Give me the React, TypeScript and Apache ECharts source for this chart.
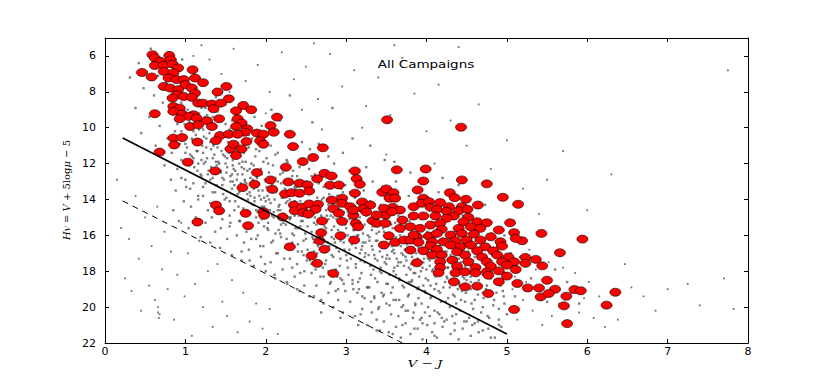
import React, { useEffect, useRef } from "react";
import * as echarts from "echarts";

const titleText = "All Campaigns";
const xTicks = [0, 1, 2, 3, 4, 5, 6, 7, 8];
const yTicks = [6, 8, 10, 12, 14, 16, 18, 20, 22];

const solidCut = [[0.22, 10.57], [5.0, 21.5]];
const dashedCut = [[0.22, 14.08], [3.7, 22]];

const fieldStarsBlue = [
  [0.31,7.2],[0.38,8.9],[0.42,6.4],[0.45,10.3],[0.48,7.8],[0.52,6.9],[0.55,9.4],[0.57,5.6],[0.61,8.2],[0.63,11.0],[0.66,7.1],[0.68,9.9],[0.7,6.3],[0.72,8.6],[0.74,12.1],[0.76,7.5],[0.78,10.6],[0.79,5.8],
  [0.81,9.1],[0.82,7.9],[0.83,11.4],[0.85,8.5],[0.86,6.7],[0.87,10.2],[0.88,9.6],[0.9,12.3],[0.91,7.4],[0.92,8.8],[0.93,10.9],[0.94,9.3],[0.95,11.8],[0.96,6.2],[0.97,8.1],[0.98,10.5],[0.99,9.8],[1.0,12.9],[1.01,7.7],[1.02,11.1],[1.03,9.0],[1.04,10.0],[1.05,8.4],[1.06,13.4],[1.07,9.5],[1.08,11.6],[1.09,10.7],[1.1,7.2],[1.11,12.2],[1.12,9.9],[1.13,10.4],[1.14,8.7],[1.15,11.3],[1.16,13.8],[1.17,9.2],[1.18,10.8],[1.19,12.6],[1.2,8.9],
  [1.21,11.0],[1.22,10.1],[1.23,12.0],[1.24,9.4],[1.25,13.1],[1.26,10.6],[1.27,11.7],[1.28,8.6],[1.29,12.4],[1.3,10.3],[1.31,14.2],[1.32,11.2],[1.33,9.7],[1.34,12.8],[1.35,10.9],[1.36,11.5],[1.37,13.6],[1.38,10.0],[1.39,12.1],[1.4,9.1],[1.41,11.9],[1.42,14.6],[1.43,10.7],[1.44,12.5],[1.45,11.3],[1.46,13.2],[1.47,10.4],[1.48,12.9],[1.49,11.6],[1.5,9.8],[1.51,13.9],[1.52,12.2],[1.53,10.8],[1.54,11.4],[1.55,14.9],[1.56,12.7],[1.57,10.2],[1.58,13.4],[1.59,11.8],[1.6,12.3],
  [1.22,13.3],[1.27,9.3],[1.33,15.0],[1.38,8.3],[1.44,15.6],[1.5,8.7],[1.56,15.3],[1.58,9.6]
];

const fieldStarsMid = [
  [1.61,10.9],[1.62,14.1],[1.63,11.5],[1.64,12.9],[1.65,13.7],[1.66,10.5],[1.67,12.0],[1.68,15.2],[1.69,11.2],[1.7,13.3],[1.71,12.6],[1.72,14.5],[1.73,10.1],[1.74,13.0],[1.75,11.9],[1.76,15.8],[1.77,12.4],[1.78,14.0],[1.79,11.1],[1.8,13.6],[1.81,12.8],[1.82,16.2],[1.83,10.6],[1.84,14.3],[1.85,12.1],[1.86,13.9],[1.87,11.6],[1.88,15.0],[1.89,12.7],[1.9,14.7],[1.91,13.1],[1.92,11.3],[1.93,16.6],[1.94,12.3],[1.95,14.4],[1.96,13.5],[1.97,10.8],[1.98,15.5],[1.99,12.9],[2.0,14.1],
  [1.63,9.2],[1.7,16.9],[1.75,8.6],[1.8,17.4],[1.86,9.4],[1.9,16.0],[1.95,9.9],[1.99,17.6],
  [2.01,11.7],[2.02,13.8],[2.03,15.3],[2.04,12.5],[2.05,14.6],[2.06,11.0],[2.07,16.4],[2.08,13.2],[2.09,12.1],[2.1,15.0],[2.11,14.0],[2.12,12.8],[2.13,17.0],[2.14,13.5],[2.15,11.4],[2.16,15.7],[2.17,14.3],[2.18,12.6],[2.19,16.1],[2.2,13.9],[2.21,12.2],[2.22,14.8],[2.23,17.3],[2.24,13.4],[2.25,15.4],[2.26,11.8],[2.27,14.1],[2.28,16.7],[2.29,12.9],[2.3,15.1],[2.31,13.7],[2.32,14.5],[2.33,17.8],[2.34,12.4],[2.35,16.0],[2.36,13.3],[2.37,15.6],[2.38,14.2],[2.39,12.7],[2.4,16.5],[2.41,14.9],[2.42,13.1],[2.43,18.1],[2.44,15.2],[2.45,12.0],[2.46,14.7],[2.47,16.3],[2.48,13.6],[2.49,15.9],[2.5,14.4],
  [2.04,10.1],[2.11,18.2],[2.18,9.6],[2.26,18.6],[2.32,10.4],[2.39,19.0],[2.45,10.8],[2.07,9.0],[2.3,8.2],[2.48,18.8],
  [2.51,13.0],[2.52,16.8],[2.53,15.0],[2.54,12.3],[2.55,17.4],[2.56,14.1],[2.57,15.8],[2.58,13.5],[2.59,16.2],[2.6,14.8],[2.61,12.6],[2.62,17.9],[2.63,15.4],[2.64,13.9],[2.65,16.6],[2.66,14.3],[2.67,12.9],[2.68,18.3],[2.69,15.7],[2.7,14.0],[2.71,16.9],[2.72,13.3],[2.73,15.2],[2.74,17.6],[2.75,14.6],[2.76,12.8],[2.77,16.4],[2.78,15.1],[2.79,13.7],[2.8,18.7],[2.81,14.9],[2.82,16.1],[2.83,13.1],[2.84,17.2],[2.85,15.5],[2.86,14.2],[2.87,19.1],[2.88,16.7],[2.89,13.8],[2.9,15.9],[2.91,14.5],[2.92,17.7],[2.93,16.3],[2.94,13.4],[2.95,18.5],[2.96,15.3],[2.97,14.7],[2.98,16.8],[2.99,13.2],[3.0,17.1],
  [2.55,11.2],[2.6,19.4],[2.66,10.9],[2.72,19.8],[2.78,11.6],[2.85,12.0],[2.9,19.6],[2.96,11.4],[2.58,9.7],[2.83,8.9],[2.69,20.3],[2.93,20.6]
];

const fieldStarsRed = [
  [3.01,14.4],[3.02,16.0],[3.03,18.2],[3.04,15.1],[3.05,13.6],[3.06,17.3],[3.07,16.5],[3.08,14.8],[3.09,19.0],[3.1,15.7],[3.11,13.9],[3.12,17.8],[3.13,16.2],[3.14,14.2],[3.15,18.6],[3.16,15.4],[3.17,17.0],[3.18,14.6],[3.19,16.8],[3.2,19.4],[3.21,15.9],[3.22,13.5],[3.23,17.5],[3.24,16.4],[3.25,14.9],[3.26,18.9],[3.27,15.2],[3.28,17.1],[3.29,16.1],[3.3,14.1],[3.31,19.7],[3.32,16.6],[3.33,15.5],[3.34,17.9],[3.35,14.7],[3.36,18.4],[3.37,16.3],[3.38,15.0],[3.39,17.4],[3.4,20.1],[3.41,15.8],[3.42,16.9],[3.43,14.3],[3.44,18.1],[3.45,17.2],[3.46,15.6],[3.47,19.3],[3.48,16.7],[3.49,15.3],[3.5,17.6],
  [3.04,12.4],[3.12,12.8],[3.18,20.4],[3.25,12.2],[3.33,13.0],[3.38,20.7],[3.45,13.3],[3.08,10.6],[3.3,11.0],[3.48,11.8],[3.15,21.0],[3.42,21.3],
  [3.51,16.2],[3.52,18.7],[3.53,15.0],[3.54,17.3],[3.55,14.5],[3.56,19.2],[3.57,16.6],[3.58,15.6],[3.59,18.0],[3.6,17.0],[3.61,15.3],[3.62,19.6],[3.63,16.4],[3.64,17.7],[3.65,14.9],[3.66,18.4],[3.67,16.0],[3.68,17.5],[3.69,20.0],[3.7,15.8],[3.71,17.1],[3.72,18.9],[3.73,16.8],[3.74,15.4],[3.75,18.2],[3.76,16.5],[3.77,19.4],[3.78,17.8],[3.79,15.2],[3.8,16.9],[3.81,18.6],[3.82,17.2],[3.83,15.9],[3.84,20.3],[3.85,16.3],[3.86,18.1],[3.87,17.4],[3.88,15.5],[3.89,19.0],[3.9,16.7],[3.91,18.3],[3.92,17.6],[3.93,15.1],[3.94,19.8],[3.95,16.1],[3.96,18.8],[3.97,17.3],[3.98,16.0],[3.99,19.2],[4.0,17.9],
  [3.55,13.4],[3.62,13.0],[3.7,21.0],[3.78,13.8],[3.85,21.2],[3.92,14.0],[3.6,11.9],[3.8,12.5],[3.95,20.9],[3.58,21.5],
  [4.01,16.4],[4.02,18.5],[4.03,15.6],[4.04,17.7],[4.05,19.5],[4.06,16.8],[4.07,18.0],[4.08,15.3],[4.09,17.2],[4.1,20.2],[4.11,16.1],[4.12,18.7],[4.13,17.5],[4.14,15.9],[4.15,19.1],[4.16,16.6],[4.17,18.2],[4.18,17.0],[4.19,20.6],[4.2,16.3],[4.21,18.9],[4.22,17.4],[4.23,15.7],[4.24,19.7],[4.25,16.9],[4.26,18.4],[4.27,17.8],[4.28,16.2],[4.29,20.0],[4.3,17.1],[4.31,18.6],[4.32,16.5],[4.33,19.3],[4.34,17.6],[4.35,15.8],[4.36,18.1],[4.37,20.4],[4.38,16.7],[4.39,19.0],[4.4,17.3],[4.41,18.8],[4.42,16.0],[4.43,19.6],[4.44,17.9],[4.45,18.3],[4.46,16.4],[4.47,20.8],[4.48,17.7],[4.49,19.2],[4.5,18.5],
  [4.05,14.2],[4.15,13.6],[4.25,14.6],[4.35,21.3],[4.45,14.9],[4.2,12.8],[4.4,13.2],[4.1,21.6],
  [4.52,16.9],[4.54,18.0],[4.56,19.8],[4.58,17.4],[4.6,18.7],[4.62,16.5],[4.64,19.3],[4.66,17.8],[4.68,20.3],[4.7,18.2],[4.72,16.8],[4.74,19.0],[4.76,17.5],[4.78,20.6],[4.8,18.4],[4.82,17.1],[4.84,19.6],[4.86,18.0],[4.88,16.6],[4.9,20.1],[4.92,18.8],[4.94,17.3],[4.96,19.4],[4.98,18.1],[5.0,20.4],
  [4.53,15.2],[4.57,21.0],[4.61,15.7],[4.65,21.4],[4.69,15.4],[4.73,14.3],[4.77,21.2],[4.81,15.9],[4.85,21.7],[4.89,16.2],[4.93,21.1],[4.97,16.0],[4.55,18.6],[4.63,17.9],[4.71,19.5],[4.79,17.0],[4.87,19.2],[4.95,18.5]
];

const fieldStarsSparse = [
  [5.03,17.6],[5.07,19.0],[5.1,18.3],[5.13,20.7],[5.16,17.2],[5.2,19.6],[5.24,18.6],[5.28,16.8],[5.32,20.2],[5.36,17.9],[5.4,19.3],[5.44,21.0],[5.48,18.4],[5.52,17.5],[5.56,20.5],[5.6,18.9],[5.65,19.8],[5.7,17.8],[5.75,20.9],[5.8,19.2],[5.85,18.1],[5.9,20.3],[5.96,19.5],[6.02,18.6],[6.08,20.6],[6.15,19.4],[6.22,21.1],[6.3,19.9],[6.38,20.7],[6.47,17.6],[6.55,18.9],[6.7,19.4],[6.85,20.2],[7.0,19.0],[7.25,18.7],[7.4,19.9],[7.7,18.4],[7.82,20.1],[6.0,14.6],[6.3,12.6],[5.7,11.3],[5.5,12.9],[7.75,6.8],
  [0.15,12.9],[0.2,15.6],[0.25,18.4],[0.3,16.2],[0.33,19.1],[0.38,13.8],[0.42,17.3],[0.45,20.2],[0.5,15.0],[0.55,18.8],[0.58,16.6],[0.62,19.6],[0.65,14.4],[0.68,20.4],[0.71,17.9],[0.74,15.8],[0.78,19.0],[0.82,16.9],[0.86,20.7],[0.9,18.2],[0.95,15.3],[0.99,19.4],[1.03,17.0],[1.08,21.6],[1.12,18.7],[1.17,16.3],[1.22,20.0],[1.28,18.0],[1.34,21.1],[1.4,17.6],[1.46,19.7],[1.52,20.5],[1.58,18.5],[1.65,21.4],[1.72,19.2],[1.8,20.8],[1.88,19.8],[1.96,21.2],[2.05,20.1],[2.15,21.5],[0.66,20.0],[0.66,20.3],[0.67,20.6],
  [1.3,6.2],[1.45,7.0],[1.6,5.6],[1.75,7.4],[1.9,6.5],[2.05,8.0],[2.2,5.8],[2.35,7.3],[2.5,6.6],[2.65,8.4],[2.8,5.9],[2.95,7.7],[3.1,6.8],[3.25,8.8],[3.4,7.2],[3.55,9.3],[3.7,6.1],[3.85,8.1],[4.0,10.2],[4.15,7.6],[4.3,9.6],[4.5,11.0],[4.65,8.7],[4.8,12.3],[5.0,10.7],[5.2,13.4],[5.4,14.8],[1.2,5.4],[2.6,5.3],[3.6,5.4],[4.4,5.5],[1.55,8.0],[2.0,9.2],[2.45,9.0],[1.1,6.0],[1.75,8.9],[2.7,10.1],[3.2,10.0],[3.5,11.5],[4.1,12.0]
];

const fieldStarsCore = [
  [1.05,9.7],[1.08,10.6],[1.11,9.2],[1.14,11.3],[1.17,10.1],[1.2,11.8],[1.23,10.5],[1.26,11.1],[1.29,9.9],[1.32,12.2],[1.35,11.0],[1.38,11.9],[1.41,10.6],[1.44,12.4],[1.47,11.5],[1.5,12.0],[1.53,11.2],[1.56,13.0],[1.59,12.1],[1.62,11.6],[1.65,12.6],[1.68,13.4],[1.71,11.9],[1.74,12.9],[1.77,13.7],[1.8,12.3],[1.83,13.2],[1.86,14.1],[1.89,12.8],[1.92,13.8],[1.95,12.6],[1.98,14.4],[2.01,13.3],[2.04,14.0],[2.07,12.9],[2.1,14.7],[2.13,13.6],[2.16,14.4],[2.19,13.1],[2.22,15.3],[2.25,14.2],[2.28,13.8],[2.31,15.0],[2.34,14.5],[2.37,13.4],[2.4,15.6],[2.43,14.1],[2.46,15.2],[2.49,14.8],[2.52,15.5],[2.55,14.4],[2.58,16.1],[2.61,15.0],[2.64,15.8],[2.67,14.6],[2.7,16.3],[2.73,15.5],[2.76,14.9],[2.79,16.6],[2.82,15.7],[2.85,16.2],[2.88,15.1],[2.91,16.9],[2.94,15.9],[2.97,16.4],[3.0,15.6],[3.03,17.0],[3.06,16.1],[3.09,15.7],[3.12,16.7],[3.15,16.0],[3.18,17.4],[3.21,16.4],[3.24,17.0],[3.27,16.0],[3.3,17.7],[3.33,16.8],[3.36,17.3],[3.39,16.3],[3.42,18.0],[3.45,16.6],[3.48,17.5],[3.51,17.1],[3.54,18.2],[3.57,16.9],[3.6,17.8],[3.63,17.3],[3.66,18.5],[3.69,17.0],[3.72,17.7],[3.75,17.4],[3.78,18.6],[3.81,17.6],[3.84,18.1],[3.87,17.0],[3.9,18.9],[3.93,18.0],[3.96,17.5],[3.99,18.4],[4.02,17.3],[4.05,18.8],[4.08,17.9],[4.11,18.3],[4.14,17.6],[4.17,19.2],[4.2,18.0],[4.23,18.6],[4.26,17.8],[4.29,18.9],[4.32,18.2],[4.35,19.4],[4.38,18.0],[4.41,18.7],[4.44,19.1],[4.47,18.4],[4.5,19.0],[4.55,18.3],[4.6,19.6],[4.65,18.5],[4.7,19.2]
];

const fieldStarsBelowCut = [
  [0.82,12.9],[0.85,14.6],[0.88,13.5],[0.92,15.2],[0.95,12.8],[0.98,14.1],[1.01,13.3],[1.04,15.6],[1.07,14.4],[1.1,13.1],[1.13,15.0],[1.16,14.0],[1.19,16.1],[1.22,13.8],[1.25,15.3],[1.28,14.6],[1.31,16.4],[1.34,13.6],[1.37,15.8],[1.4,14.3],[1.43,16.7],[1.46,15.1],[1.49,14.0],[1.52,16.2],[1.55,15.5],[1.58,17.1],[1.61,14.6],[1.64,16.0],[1.67,15.2],[1.7,17.4],[1.73,16.4],[1.76,14.9],[1.79,16.8],[1.82,15.5],[1.85,17.7],[1.88,16.2],[1.91,15.3],[1.94,17.2],[1.97,16.6],[2.0,18.0],[2.03,15.7],[2.06,17.5],[2.09,16.3],[2.12,18.4],[2.15,17.0],[2.18,15.9],[2.21,17.9],[2.24,16.7],[2.27,18.7],[2.3,17.3],[2.33,16.4],[2.36,18.3],[2.39,17.6],[2.42,19.1],[2.45,16.9],[2.48,18.0],[2.51,17.4],[2.54,19.4],[2.57,18.1],[2.6,16.9],[2.63,18.8],[2.66,17.7],[2.69,19.6],[2.72,18.3],[2.75,17.4],[2.78,19.2],[2.81,18.6],[2.84,20.0],[2.87,17.9],[2.9,19.0],[2.93,18.4],[2.96,20.3],[2.99,19.1],[3.02,17.8],[3.05,19.7],[3.08,18.7],[3.11,20.5],[3.14,19.2],[3.17,18.4],[3.2,20.1],[3.23,19.5],[3.26,21.0],[3.29,18.9],[3.32,20.3],[3.35,19.4],[3.38,21.3],[3.41,20.0],[3.44,19.2],[3.47,20.8],[3.5,19.8],[3.53,21.4],[3.56,20.4],[3.59,19.6],[3.62,21.1],[3.65,20.5],[3.68,21.7],[3.71,19.9],[3.74,20.9],[3.77,20.2],[3.8,21.5],[3.83,20.6],[3.86,19.8],[3.89,21.2],[3.92,20.7],[3.95,21.8],[3.98,20.3],[4.01,21.0],[4.04,20.5],[4.07,21.4],[4.1,20.9],[4.13,21.7],[4.16,20.4],[4.2,21.1],[4.25,20.7],[4.3,21.5],[4.35,20.9],[4.4,21.8],[4.45,21.2],[4.5,20.8],[4.55,21.6],[4.6,20.9],[4.7,21.3],[4.8,21.7],[4.9,21.0]
];

const fieldStarsUpper = [
  [0.95,8.6],[1.0,10.9],[1.03,8.2],[1.06,11.5],[1.1,10.2],[1.13,8.0],[1.16,12.0],[1.19,9.6],[1.22,11.4],[1.25,8.9],[1.28,12.6],[1.31,10.8],[1.34,9.4],[1.37,12.3],[1.4,11.1],[1.43,9.6],[1.46,12.8],[1.49,10.5],[1.52,11.7],[1.55,10.1],[1.58,12.6],[1.61,13.2],[1.64,11.0],[1.67,13.6],[1.7,12.2],[1.73,11.4],[1.76,13.1],[1.79,10.4],[1.82,12.0],[1.85,13.4],[1.88,11.2],[1.91,12.4],[1.94,14.0],[1.97,11.9],[2.0,13.0],[2.03,12.0],[2.06,14.2],[2.09,13.6],[2.12,11.5],[2.15,13.0],[2.18,14.6],[2.21,12.5],[2.24,13.7],[2.27,11.9],[2.3,14.0],[2.33,12.7],[2.36,14.9],[2.39,13.3],[2.42,12.2],[2.45,14.3],[2.48,13.0],[2.51,14.6],[2.54,13.7],[2.57,12.7],[2.6,15.3],[2.63,14.2],[2.66,13.1],[2.69,14.9],[2.72,13.9],[2.75,15.6],[2.78,14.3],[2.81,13.3],[2.84,15.0],[2.87,14.0],[2.9,15.7],[2.93,14.6],[2.96,13.6],[2.99,15.4],[3.02,14.7],[3.05,16.3],[3.08,15.2],[3.11,14.4],[3.14,16.0],[3.17,15.0],[3.2,16.6],[3.23,15.4],[3.26,14.5],[3.29,16.3],[3.32,15.7],[3.35,17.1],[3.38,15.9],[3.41,14.9],[3.44,16.4],[3.47,15.8],[3.5,17.3],[3.53,16.5],[3.56,15.4],[3.59,16.8],[3.62,16.1],[3.65,17.5],[3.68,16.6],[3.71,15.5],[3.74,17.2],[3.77,16.3],[3.8,17.9],[3.83,16.7],[3.86,15.9],[3.89,17.3],[3.92,16.5],[3.95,17.8],[3.98,17.0],[4.01,15.8],[4.04,17.4],[4.07,16.7],[4.1,18.2],[4.13,17.2],[4.16,16.3],[4.19,17.7],[4.22,16.9],[4.25,18.3],[4.28,17.4],[4.31,16.6],[4.34,18.0],[4.37,17.3],[4.4,18.6],[4.43,17.5],[4.46,16.8],[4.49,18.1],[4.52,17.6],[4.55,19.0],[4.6,17.2],[4.65,18.1],[4.7,17.4],[4.75,18.8],[4.8,17.7],[4.85,18.5],[4.9,17.5],[4.95,19.1],[5.0,18.2],[5.05,17.0],[5.1,19.4],[5.15,18.0],[5.2,17.5],[5.3,18.4],[5.4,17.3],[5.5,19.7],[5.6,17.9],[5.75,18.6],[5.9,19.8]
];

const fieldStarsDense = [
  [1.31,12.9],[1.34,11.7],[1.39,13.2],[1.42,12.0],[1.47,13.7],[1.51,12.5],[1.55,14.1],[1.59,13.0],[1.62,12.4],[1.66,14.4],[1.69,13.1],[1.73,12.3],[1.77,14.8],[1.81,13.8],[1.84,12.9],[1.88,14.6],[1.91,13.5],[1.95,15.1],[1.98,13.9],[2.02,15.6],[2.05,13.4],[2.08,14.9],[2.12,15.9],[2.15,14.6],[2.19,15.4],[2.22,13.9],[2.26,16.2],[2.29,15.0],[2.33,15.9],[2.36,14.1],[2.4,16.9],[2.43,15.5],[2.47,17.1],[2.5,16.2],[2.53,14.9],[2.57,17.6],[2.6,16.4],[2.64,17.0],[2.68,15.9],[2.71,17.8],[2.75,16.7],[2.78,18.0],[2.82,17.1],[2.86,16.4],[2.89,18.3],[2.93,17.3],[2.97,18.7],[3.01,17.4],[3.04,16.8],[3.08,18.5],[3.12,17.6],[3.16,19.0],[3.19,18.1],[3.23,17.2],[3.27,18.9],[3.31,18.2],[3.35,19.5],[3.39,18.6],[3.43,17.8],[3.46,19.4],[3.5,18.7],[3.54,19.9],[3.58,18.9],[3.62,18.2],[3.66,19.6],[3.7,18.8],[3.74,20.2],[3.78,19.3],[3.82,18.5],[3.86,19.9],[3.9,19.5],[3.94,20.6],[3.98,19.1],[4.02,20.0],[4.06,19.4],[4.1,19.0],[4.14,20.3],[4.18,19.7],[4.22,20.8],[4.27,19.5],[4.32,20.5],[4.37,19.8],[4.42,20.2],[4.48,19.7],[4.53,20.6],[4.58,20.1],[4.64,20.8],[4.7,20.0],[4.76,20.5],[4.83,19.9],[4.9,20.7],[4.97,19.8],[1.2,12.7],[1.25,11.9],[1.15,12.4],[1.1,11.7],[1.0,11.4],[0.95,10.2],[0.9,9.8],[1.05,12.1]
];

const campaignStars = [
  [0.59,5.93],[0.62,6.11],[0.80,5.97],[0.82,6.21],[0.69,6.30],[0.62,6.53],[0.73,6.53],[0.84,6.45],[0.91,6.67],[0.46,6.92],[0.58,7.17],[0.73,6.86],[0.85,6.95],[1.09,6.77],[0.79,7.23],[0.89,7.32],[0.98,7.32],[1.12,7.23],[1.22,7.49],[0.73,7.70],[0.81,7.79],[1.00,7.60],[1.08,7.79],[0.91,7.88],[1.12,8.07],[1.40,8.01],[1.51,7.70],[0.89,8.16],[0.98,8.26],[0.84,8.35],[1.08,8.31],[1.54,8.39],[1.16,8.63],[1.22,8.63],[1.33,8.68],[1.44,8.63],[0.85,8.82],[0.93,8.91],[1.35,8.94],[1.72,8.76],[1.82,9.00],[1.63,9.06],[0.62,9.22],[0.85,9.09],[0.96,9.24],[1.10,9.28],[1.04,9.37],[1.14,9.46],[0.93,9.50],[1.27,9.61],[1.42,9.50],[1.65,9.50],[1.70,9.74],[2.14,9.41],[1.06,9.93],[1.16,9.84],[1.33,9.93],[1.63,9.93],[1.77,10.06],[1.74,10.25],[2.06,9.88],[0.85,10.58],[0.96,10.55],[1.43,10.44],[1.54,10.36],[1.65,10.36],[1.89,10.30],[1.97,10.36],[2.10,10.25],[2.30,10.36],[0.86,10.96],[1.15,10.80],[1.38,10.72],[1.76,10.77],[1.93,10.73],[1.97,10.92],[2.34,11.05],[1.56,11.18],[1.60,10.92],[1.70,11.18],[1.63,11.55],[0.68,11.36],[1.03,11.92],[2.71,11.12],[2.59,11.66],
  [1.37,12.41],[1.89,12.50],[2.25,12.20],[2.46,11.89],[2.06,12.91],[1.86,13.15],[1.71,13.34],[2.08,13.43],[2.28,13.02],[2.42,13.09],[2.52,13.19],[2.64,12.85],[2.73,12.54],[2.82,12.69],[3.11,12.41],[3.13,12.84],[3.17,13.15],[2.80,13.21],[2.91,13.19],[2.24,13.69],[2.32,13.62],[2.42,13.65],[2.54,13.53],[3.11,13.65],[2.82,14.03],[2.95,13.93],[2.95,14.21],[3.20,14.14],[3.30,14.31],[1.38,14.31],[1.42,14.63],[1.75,14.77],[1.97,14.68],[1.98,14.88],[2.21,14.98],[2.35,14.31],[2.36,14.63],[2.45,14.44],[2.54,14.25],[2.65,14.27],[2.62,14.55],[2.47,14.74],[2.53,14.81],[2.84,14.51],[2.91,14.77],[3.05,14.40],[3.09,14.88],[3.21,14.51],[3.25,14.70],[1.15,15.26],[1.78,15.46],[2.70,15.20],[2.95,15.22],[3.12,15.33],[3.15,15.52],[3.33,15.18],[3.38,15.33],[2.69,15.85],[2.67,16.30],[2.93,16.02],[3.10,16.26],[2.30,16.64],[2.73,16.77],[2.57,17.14],[2.64,17.56],[2.84,18.12],
  [3.63,12.35],[3.99,12.30],[3.96,12.97],[4.44,12.91],[4.75,13.13],[4.95,13.88],[5.14,14.27],[4.29,13.62],[4.35,13.90],[4.49,13.99],[4.64,14.31],[4.46,14.49],[5.04,15.30],[5.43,15.89],[5.19,16.30],[5.36,17.34],[5.44,17.70],[5.50,18.50],[5.26,18.93],[5.40,18.93],[5.42,19.43],[5.13,18.68],[4.77,19.24],[4.63,18.83],[4.48,18.87],[4.34,18.59],[4.90,18.59],[3.51,9.56],[4.43,9.97],[3.89,13.47],[3.45,13.60],[3.50,13.41],[3.59,13.62],[3.54,13.93],[3.61,13.93],[3.96,13.93],[4.17,14.17],[3.58,14.44],[3.84,14.40],[3.94,14.21],[4.03,14.12],[4.05,14.44],[4.28,14.40],[4.44,14.40],[4.13,14.55],[4.25,14.66],[4.40,14.63],[4.51,14.55],[3.67,14.59],[3.49,14.87],[3.84,14.92],[3.96,14.92],[4.11,14.92],[4.34,14.92],[4.52,14.99],
  [3.49,15.33],[3.70,15.15],[4.25,15.05],[4.46,15.24],[4.63,15.24],[4.75,15.30],[4.05,15.42],[4.17,15.33],[3.67,15.61],[3.80,15.52],[3.92,15.61],[4.19,15.66],[4.40,15.61],[4.55,15.52],[4.67,15.61],[4.90,15.70],[5.09,15.85],[5.94,16.21],[3.53,16.02],[3.88,16.08],[4.03,16.04],[4.13,15.89],[4.30,15.98],[4.44,15.89],[4.59,15.93],[4.80,16.08],[5.11,16.17],[3.61,16.39],[3.72,16.26],[3.80,16.26],[3.90,16.39],[4.07,16.36],[4.21,16.36],[4.36,16.30],[4.50,16.26],[4.67,16.26],[4.92,16.36],[3.47,16.54],[4.05,16.58],[4.30,16.54],[4.42,16.64],[4.55,16.54],[4.73,16.64],[4.94,16.60],[3.80,16.82],[3.96,16.86],[4.13,16.78],[4.38,16.92],[4.63,16.86],[4.83,16.86],[5.66,16.97],[4.07,17.10],[4.19,17.10],[4.48,17.10],[4.69,17.20],[4.88,17.10],[5.02,17.20],[5.23,17.23],[3.88,17.53],[4.17,17.47],[4.32,17.38],[4.52,17.47],[4.75,17.47],[4.94,17.47],[5.09,17.47],[5.23,17.56],[4.17,17.79],[4.38,17.72],[4.61,17.79],[4.80,17.72],[5.00,17.66],[5.11,17.90],[4.15,18.09],[4.36,18.09],[4.48,18.03],[4.61,18.09],[4.75,18.03],[4.90,17.98],[4.77,18.22],[5.00,18.27],[5.60,19.00],[5.84,19.02],[5.92,19.09],[5.52,19.24],[5.74,19.39],[5.09,20.13],[5.71,19.93],[5.75,20.92],[6.35,19.17],[6.24,19.89],[3.09,14.59],[3.47,14.49],[3.57,14.68],[3.38,14.87],[3.84,15.98]
];

const frameLine = { show: true, onZero: false, lineStyle: { color: "#000", width: 1 } };
const tickStyle = { show: true, inside: true, length: 4, lineStyle: { color: "#000", width: 1 } };
const labelStyle = { color: "#000", fontSize: 11, fontFamily: "DejaVu Sans" };

export default function App() {
  const ref = useRef<HTMLDivElement>(null);
  useEffect(() => {
    const chart = echarts.init(ref.current!, null, { renderer: "svg" });
    const fieldBand = [
      ...fieldStarsBlue,
      ...fieldStarsMid,
      ...fieldStarsRed,
      ...fieldStarsCore,
      ...fieldStarsBelowCut,
      ...fieldStarsUpper,
      ...fieldStarsDense,
    ];
    chart.setOption({
      animation: false,
      backgroundColor: "#fff",
      grid: { left: 105, right: 82, top: 38, bottom: 39, containLabel: false },
      xAxis: [
        {
          type: "value", min: 0, max: 8, interval: 1, position: "bottom",
          axisLine: frameLine, axisTick: tickStyle, splitLine: { show: false },
          axisLabel: { ...labelStyle, margin: 3, customValues: xTicks },
        },
        {
          type: "value", min: 0, max: 8, interval: 1, position: "top",
          axisLine: frameLine, axisTick: tickStyle, splitLine: { show: false },
          axisLabel: { show: false },
        },
      ],
      yAxis: [
        {
          type: "value", min: 5, max: 22, inverse: true, position: "left",
          axisLine: frameLine,
          axisTick: { ...tickStyle, customValues: yTicks },
          splitLine: { show: false },
          axisLabel: { ...labelStyle, margin: 9, customValues: yTicks },
        },
        {
          type: "value", min: 5, max: 22, inverse: true, position: "right",
          axisLine: frameLine,
          axisTick: { ...tickStyle, customValues: yTicks },
          splitLine: { show: false },
          axisLabel: { show: false },
        },
      ],
      series: [
        {
          type: "scatter",
          data: fieldStarsSparse,
          symbol: "rect",
          symbolSize: 1.8,
          itemStyle: { color: "#333", opacity: 0.7 },
          silent: true,
        },
        {
          type: "scatter",
          data: fieldBand,
          symbol: "rect",
          symbolSize: 2.4,
          itemStyle: { color: "#3c3c3c", opacity: 0.65 },
          silent: true,
        },
        {
          type: "line",
          data: solidCut,
          symbol: "none",
          lineStyle: { color: "#000", width: 1.6 },
          silent: true,
        },
        {
          type: "line",
          data: dashedCut,
          symbol: "none",
          lineStyle: { color: "#000", width: 1, type: [6, 5] },
          silent: true,
        },
        {
          type: "scatter",
          data: campaignStars,
          symbol: "circle",
          symbolSize: [11, 8],
          itemStyle: { color: "#ff0000", borderColor: "#000", borderWidth: 0.6, opacity: 1 },
          silent: true,
        },
      ],
      graphic: [
        {
          type: "text",
          x: 426,
          y: 65,
          scaleX: 1.35,
          style: {
            text: titleText,
            fontSize: 10,
            fontFamily: "DejaVu Sans",
            fill: "#000",
            align: "center",
            verticalAlign: "middle",
            textAlign: "center",
            textVerticalAlign: "middle",
          },
        },
        {
          type: "text",
          x: 425,
          y: 364,
          scaleX: 1.35,
          style: {
            text: "V − J",
            fontSize: 10,
            fontStyle: "italic",
            fontFamily: "DejaVu Serif",
            fill: "#000",
            align: "center",
            verticalAlign: "middle",
            textAlign: "center",
            textVerticalAlign: "middle",
          },
        },
        {
          type: "text",
          x: 66,
          y: 190,
          rotation: Math.PI / 2,
          style: {
            text: "{i|H}{s|V}{n| = }{i|V}{n| + 5log}{i|μ}{n| − 5}",
            fill: "#000",
            align: "center",
            verticalAlign: "middle",
            textAlign: "center",
            textVerticalAlign: "middle",
            rich: {
              i: { fontSize: 10, fontStyle: "italic", fontFamily: "DejaVu Serif", fill: "#000" },
              s: { fontSize: 7, fontStyle: "italic", fontFamily: "DejaVu Serif", fill: "#000", verticalAlign: "bottom", padding: [4, 0, 0, 0] },
              n: { fontSize: 10, fontFamily: "DejaVu Serif", fill: "#000" },
            },
          },
        },
      ],
    });
    return () => chart.dispose();
  }, []);
  return (
    <div
      ref={ref}
      style={{ position: "fixed", left: 0, top: 0, width: 830, height: 382, background: "#fff" }}
    />
  );
}
